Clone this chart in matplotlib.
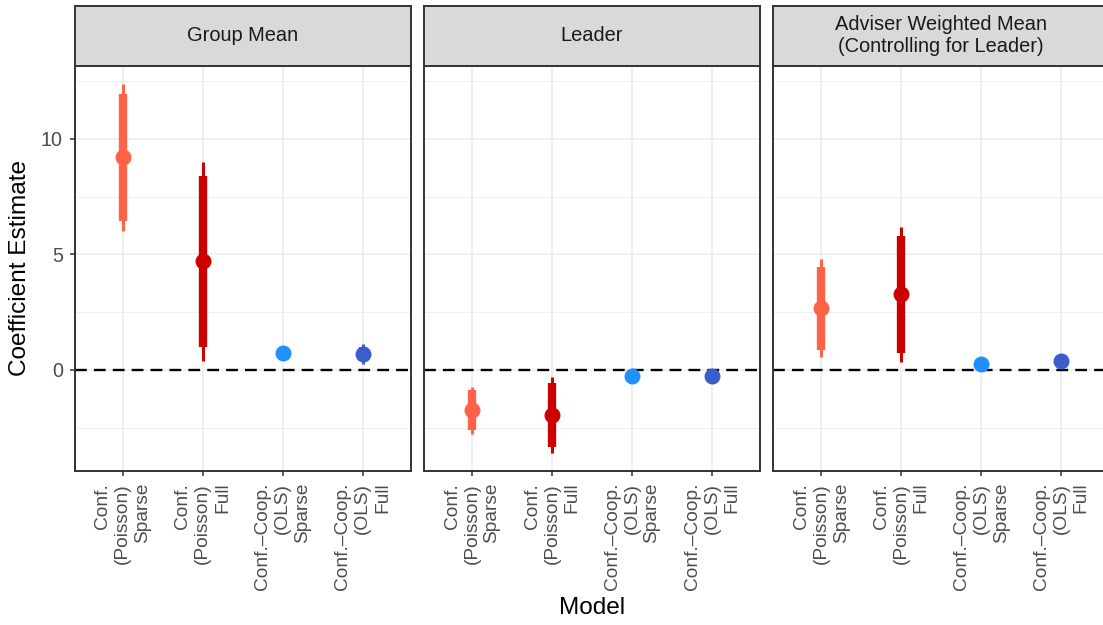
import matplotlib.pyplot as plt
import numpy as np

plt.rcParams['font.family'] = ['Liberation Sans', 'DejaVu Sans']

panels = ['Group Mean', 'Leader', 'Adviser Weighted Mean\n(Controlling for Leader)']
models = ['Conf.\n(Poisson)\nSparse', 'Conf.\n(Poisson)\nFull',
          'Conf.\u2013Coop.\n(OLS)\nSparse', 'Conf.\u2013Coop.\n(OLS)\nFull']
colors = ['#FF6347', '#CD0000', '#1E90FF', '#3A5FCD']

# point estimates, one row per panel
estimate = [[9.21, 4.72, 0.75, 0.69],
            [-1.75, -1.95, -0.25, -0.25],
            [2.66, 3.27, 0.27, 0.37]]
# 90% intervals (thick)
lo90 = [[6.46, 1.01, 0.58, 0.38],
        [-2.62, -3.35, -0.40, -0.38],
        [0.85, 0.73, 0.15, 0.25]]
hi90 = [[11.95, 8.41, 0.92, 1.00],
        [-0.89, -0.55, -0.10, -0.12],
        [4.46, 5.80, 0.39, 0.49]]
# 95% intervals (thin)
lo95 = [[6.03, 0.40, 0.52, 0.26],
        [-2.76, -3.58, -0.45, -0.43],
        [0.56, 0.33, 0.10, 0.20]]
hi95 = [[12.38, 9.02, 0.98, 1.12],
        [-0.75, -0.32, -0.05, -0.07],
        [4.78, 6.20, 0.44, 0.54]]

lo_all = np.min(lo95)
hi_all = np.max(hi95)
pad = 0.05 * (hi_all - lo_all)
ylim = (lo_all - pad, hi_all + pad)

W, H = 1103, 625
fig = plt.figure(figsize=(W / 100, H / 100), dpi=100)

lefts = [74.7, 424.0, 773.3]
pw = 336.0
top, bottom = 65.5, 471.0
strip_top = 5.7
border = '#333333'

x = np.arange(len(models))
for k, name in enumerate(panels):
    l = lefts[k]
    ax = fig.add_axes([l / W, (H - bottom) / H, pw / W, (bottom - top) / H])
    sx = fig.add_axes([l / W, (H - top) / H, pw / W, (top - strip_top) / H])

    ax.set_xlim(-0.6, len(models) - 0.4)
    ax.set_ylim(*ylim)
    ax.set_yticks([0, 5, 10])
    ax.set_yticks([-2.5, 2.5, 7.5, 12.5], minor=True)
    ax.grid(which='major', color='#EBEBEB', lw=1.1, zorder=0)
    ax.grid(which='minor', axis='y', color='#EBEBEB', lw=0.55, zorder=0)
    ax.set_axisbelow(True)
    ax.axhline(0, color='black', lw=1.7, ls=(0, (5, 3)), zorder=1)

    for i in range(len(models)):
        c = colors[i]
        ax.vlines(x[i], lo95[k][i], hi95[k][i], color=c, lw=2.2, zorder=2)
        ax.vlines(x[i], lo90[k][i], hi90[k][i], color=c, lw=6, zorder=3)
        ax.plot(x[i], estimate[k][i], 'o', color=c, ms=11.5, mec='none', zorder=4)

    ax.set_xticks(x)
    ax.set_xticklabels(models, rotation=90, ha='center', va='top',
                       multialignment='right', linespacing=1.22,
                       fontsize=13.8, color='#4D4D4D')
    ax.tick_params(axis='x', length=3.5, width=1.1, color=border, pad=5)
    ax.tick_params(axis='y', which='minor', length=0)
    if k == 0:
        ax.tick_params(axis='y', length=3.5, width=1.1, color=border, pad=5,
                       labelsize=14.2, labelcolor='#4D4D4D')
    else:
        ax.tick_params(axis='y', length=0, labelleft=False)
    for s in ax.spines.values():
        s.set_color(border)
        s.set_linewidth(1.4)

    sx.set_facecolor('#D9D9D9')
    sx.set_xticks([])
    sx.set_yticks([])
    for s in sx.spines.values():
        s.set_color(border)
        s.set_linewidth(1.4)
    sx.text(0.5, 0.5, name, ha='center', va='center', fontsize=14.4,
            color='#1A1A1A', linespacing=1.2, transform=sx.transAxes)

fig.text(592 / W, 1 - 608 / H, 'Model', ha='center', va='center', fontsize=17.6)
fig.text(20 / W, 1 - 268 / H, 'Coefficient Estimate', ha='center', va='center',
         rotation=90, fontsize=17.6)

fig.savefig('out.png', dpi=100)
